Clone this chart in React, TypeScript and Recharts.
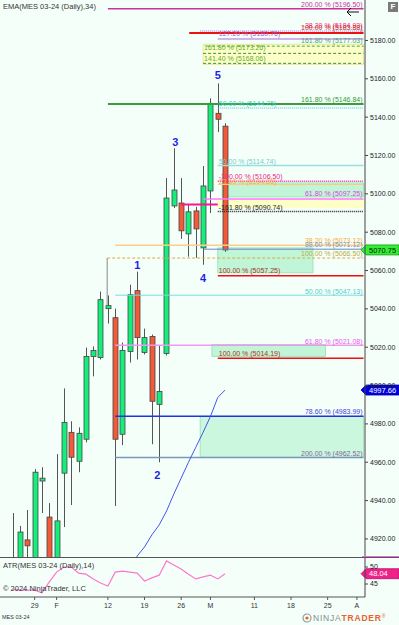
import React from 'react';
import { ComposedChart, Bar, Line, Scatter, XAxis, YAxis, ReferenceLine, ReferenceArea } from 'recharts';

// daily bars, index 0 = Jan 24 2024
const OPEN = [4908, 4904, 4919.5, 4906, 4950.2, 4931.4, 4907, 4954.3, 4975.6, 4960.5, 4972.0, 5015.2, 5014.6, 5040.1, 5035.4, 4974.6, 5017.8, 5049.5, 5017.2, 5025.6, 4990.2, 5016.7, 5093.7, 5095.2, 5079.1, 5091.1, 5071.8, 5101.5, 5142.0, 5135.3];
const HIGH = [4933.5, 4926.8, 4935.1, 4956.4, 4957.4, 4938.7, 4964.2, 4998.5, 4981.4, 4978.2, 5019.8, 5020.4, 5049.0, 5047.0, 5040.1, 5022.4, 5052.6, 5059.4, 5029.7, 5026.6, 5020.9, 5108.2, 5123.8, 5108.2, 5094.2, 5093.2, 5114.5, 5149.8, 5157.6, 5136.8];
const LOW = [4888, 4895, 4898, 4900, 4933.5, 4896, 4899, 4926.2, 4937.7, 4954.8, 4970.4, 5004.8, 5013.6, 5032.3, 4937.2, 4968.9, 5012.0, 5013.6, 5016.2, 4969.4, 4960.0, 5015.7, 5092.6, 5076.5, 5067.2, 5066.6, 5063.0, 5090.0, 5132.2, 5069.8];
const CLOSE = [4896, 4923.6, 4916.4, 4954.8, 4951.7, 4903, 4929.4, 4980.8, 4962.6, 4975.1, 5015.2, 5018.3, 5044.8, 5041.7, 4972.0, 5018.3, 5047.4, 5025.0, 5025.0, 4991.8, 4996.9, 5097.8, 5102.0, 5080.7, 5090.6, 5081.7, 5104.1, 5147.2, 5138.9, 5070.75];
const EMA = [null, null, null, null, null, null, null, null, null, null, null, null, null, null, null, null, 4904, 4911.1, 4915.8, 4922.1, 4927.3, 4934.5, 4943.4, 4951.7, 4960.0, 4967.8, 4975.6, 4983.9, 4993.8, 4997.66];
const ATR = [43.5, 43.2, 43.2, 43.2, 42.4, 45.6, 48.5, 50.0, 50.0, 48.2, 47.9, 46.5, 45.3, 44.4, 48.5, 48.8, 48.5, 48.2, 45.9, 46.8, 47.6, 51.8, 50.6, 49.4, 47.9, 46.5, 47.1, 47.6, 46.5, 48.04];

const TICK_IDX = [3, 6, 13, 18, 23, 27, 33, 38, 43, 47];
const TICK_LABELS = ['29', 'F', '12', '19', '26', 'M', '11', '18', '25', 'A'];
const PRICE_TICKS = [4920, 4940, 4960, 4980, 5000, 5020, 5040, 5060, 5080, 5100, 5120, 5140, 5160, 5180];
const ATR_TICKS = [45, 50];

// elliott wave labels
const WAVE_IDX = [17, 19.75, 22.2, 26, 28];
const WAVE_PRICE = [5062.9, 4953.4, 5127.1, 5056.1, 5162.0];
const WAVE_TEXT = ['1', '2', '3', '4', '5'];

// fibonacci drawing levels
const LEVEL_PCT = ['200.00', '-38.20', '100.00', '127.20', '161.80', '161.80', '141.40', '161.80', '50.00', '50.00', '-100.00', '23.60', '61.80', '-161.80', '38.20', '88.60', '100.00', '100.00', '50.00', '61.80', '100.00', '78.60', '200.00', ''];
const LEVEL_PRICE = [5196.50, 5184.93, 5183.88, 5180.76, 5177.03, 5173.26, 5168.06, 5146.84, 5144.75, 5114.74, 5106.50, 5104.85, 5097.25, 5090.74, 5073.12, 5071.12, 5066.50, 5057.25, 5047.13, 5021.08, 5014.19, 4983.99, 4962.52, 5094.4];
const LEVEL_FROM = [13, 25.6, 24.1, 28, 26.5, 26, 26, 13, 28, 28, 28, 28, 26, 28, 14, 26, 12.9, 28, 14, 14, 28, 14, 14, 23];
const LEVEL_TO = [47.9, 47.9, 47.9, 47.9, 47.9, 47.9, 47.9, 47.9, 47.9, 47.9, 47.9, 47.9, 47.9, 47.9, 47.9, 47.9, 47.9, 47.9, 47.9, 47.9, 47.9, 47.9, 47.9, 28];

// zones: [fromIdx, toIdx, lowPrice, highPrice]
const ZONE_X1 = [26, 28.6, 28, 28, 27.2, 25.6];
const ZONE_X2 = [47.9, 47.9, 47.9, 41, 42.7, 47.9];
const ZONE_Y1 = [5167.5, 5098.4, 5092.8, 5058.8, 5015.2, 4962.6];
const ZONE_Y2 = [5178.0, 5105.7, 5097.0, 5071.8, 5021.4, 4983.9];

const CONNECT_IDX = [12.9];
const CONNECT_FROM = [5066.5];
const CONNECT_TO = [5041.7];

const LAST_PRICE = 5070.75;
const LAST_EMA = 4997.66;
const LAST_ATR = 48.04;

const X_DOMAIN = [-1.73, 48.1];
const Y_DOMAIN = [4910.05, 5201.1];
const ATR_DOMAIN = [41.18, 52.65];

const GREEN = '#14ee7a';
const RED = '#f25a38';
const BG = '#f5fffa';

const LEVEL_STYLE = [
  { stroke: '#cc3399', w: 1.5, dash: '', tc: '#cc3399', side: 'r', dy: -2 },
  { stroke: '#aa66dd', w: 1, dash: '1 1', tc: '#ee3388', side: 'r', dy: -3 },
  { stroke: '#ee1111', w: 2, dash: '', tc: '#cc2222', side: 'r', dy: -3 },
  { stroke: '#aa66dd', w: 1, dash: '', tc: '#aa55cc', side: 'l', dy: -2.5 },
  { stroke: '#44aa44', w: 1, dash: '3 2', tc: '#44aa66', side: 'r', dy: -3 },
  { stroke: '#448844', w: 1, dash: '3 2', tc: '#66aa33', side: 'l', dy: -3 },
  { stroke: '#448844', w: 1, dash: '3 2', tc: '#66aa33', side: 'l', dy: -2 },
  { stroke: '#3c9c3c', w: 2, dash: '', tc: '#339933', side: 'r', dy: -2 },
  { stroke: '#33cccc', w: 1, dash: '1 1', tc: '#44cccc', side: 'l', dy: -2 },
  { stroke: '#99dddd', w: 1.5, dash: '', tc: '#77cccc', side: 'l', dy: -2 },
  { stroke: '#ff2299', w: 1.5, dash: '1 1', tc: '#ee2288', side: 'l', dy: -2 },
  { stroke: '#ffcc77', w: 1, dash: '', tc: '#ffaa44', side: 'l', dy: -1 },
  { stroke: '#ff77ff', w: 1.5, dash: '', tc: '#dd44dd', side: 'r', dy: -3.5 },
  { stroke: '#222222', w: 1.5, dash: '1 1', tc: '#222222', side: 'l', dy: -1.5 },
  { stroke: '#ffcc88', w: 1.5, dash: '', tc: '#ffaa33', side: 'r', dy: -2.5 },
  { stroke: '#6688bb', w: 1, dash: '', tc: '#7799bb', side: 'r', dy: -2 },
  { stroke: '#ddaa44', w: 1, dash: '3 2', tc: '#bbaa44', side: 'r', dy: -2 },
  { stroke: '#ee1111', w: 1.5, dash: '', tc: '#aa3322', side: 'l', dy: -2.5 },
  { stroke: '#77dddd', w: 1, dash: '', tc: '#55cccc', side: 'r', dy: -1.5 },
  { stroke: '#ee99ee', w: 1.5, dash: '', tc: '#ee55ee', side: 'r', dy: -1.5 },
  { stroke: '#ee1111', w: 1.5, dash: '', tc: '#aa3322', side: 'l', dy: -2 },
  { stroke: '#2233dd', w: 1.5, dash: '', tc: '#4444dd', side: 'r', dy: -2.5 },
  { stroke: '#7799bb', w: 1.5, dash: '', tc: '#886699', side: 'r', dy: -1 },
  { stroke: '#ff1493', w: 2, dash: '', tc: '#ff1493', side: 'r', dy: 0 },
];
const ZONE_STYLE = [
  { fill: '#ffffbb', stroke: '#e8e8a0' },
  { fill: '#b4f2cf', stroke: '#a0e4bc' },
  { fill: '#ffffbb', stroke: '#ffffbb' },
  { fill: '#b4f2cf', stroke: '#a0e4bc' },
  { fill: '#b4f2cf', stroke: '#a0e4bc' },
  { fill: '#c0f5d8', stroke: '#a0e4bc' },
];

const Candle = (props: any) => {
  const { x, y, width, height, payload } = props;
  if (!payload) return null;
  const { open, close, high, low } = payload;
  const top = Math.min(y, y + height);
  const h = Math.abs(height);
  const k = high === low ? 0 : h / (high - low);
  const yOf = (v: number) => top + (high - v) * k;
  const cx = Math.round(x + width / 2) + 0.5;
  const bTop = yOf(Math.max(open, close));
  const bBot = yOf(Math.min(open, close));
  return (
    <g>
      <line x1={cx} x2={cx} y1={top} y2={top + h} stroke="#555" strokeWidth={1} />
      <rect x={cx - 2.5} y={bTop} width={5} height={Math.max(1, bBot - bTop)} fill={close >= open ? GREEN : RED} stroke="#444" strokeWidth={0.8} />
    </g>
  );
};

const WaveLabel = (props: any) => (
  <text x={props.cx} y={props.cy} textAnchor="middle" dominantBaseline="central" fontSize={11} fontWeight="bold" fill="#1f1fe6">
    {props.payload.t}
  </text>
);

const levelLabel = (text: string, color: string, side: string, dy: number) => (props: any) => {
  const vb = props.viewBox;
  if (!vb || !text) return null;
  const x = side === 'l' ? vb.x + 1 : vb.x + vb.width - 1;
  return (
    <text x={x} y={vb.y + dy} textAnchor={side === 'l' ? 'start' : 'end'} fontSize={7} fill={color}>
      {text}
    </text>
  );
};

const axisTag = (text: string, fill: string, color: string, stroke: string) => (props: any) => {
  const vb = props.viewBox;
  if (!vb) return null;
  const x0 = vb.x + vb.width;
  const y0 = vb.y;
  return (
    <g>
      <polygon points={`${x0 - 4},${y0} ${x0 + 1},${y0 - 5} ${x0 + 34},${y0 - 5} ${x0 + 34},${y0 + 5} ${x0 + 1},${y0 + 5}`} fill={fill} stroke={stroke} strokeWidth={0.8} />
      <text x={x0 + 4} y={y0 + 2.8} fontSize={7.5} fill={color}>{text}</text>
    </g>
  );
};

const App = () => {
  const data = OPEN.map((o, i) => ({ i, open: o, high: HIGH[i], low: LOW[i], close: CLOSE[i], ema: EMA[i], atr: ATR[i] }));
  const waves = WAVE_IDX.map((i, k) => ({ i, p: WAVE_PRICE[k], t: WAVE_TEXT[k] }));
  const txt: React.CSSProperties = { position: 'absolute', whiteSpace: 'nowrap', lineHeight: 1, color: '#333' };

  return (
    <div style={{ position: 'absolute', left: 0, top: 0, width: 399, height: 625, background: BG, overflow: 'hidden', fontFamily: '"Liberation Sans", Arial, sans-serif' }}>
      <ComposedChart width={399} height={558} data={data} margin={{ top: 0, right: 0, bottom: 0, left: 0 }}>
        <XAxis type="number" dataKey="i" domain={X_DOMAIN} hide allowDataOverflow />
        <YAxis
          orientation="right"
          width={34}
          domain={Y_DOMAIN}
          ticks={PRICE_TICKS}
          interval={0}
          allowDataOverflow
          tickFormatter={(v: number) => v.toFixed(2)}
          tick={{ fontSize: 7, fill: '#222' }}
          tickSize={3}
          tickMargin={2}
          axisLine={{ stroke: '#444' }}
          tickLine={{ stroke: '#444' }}
        />
        {ZONE_X1.map((x1, k) => (
          <ReferenceArea key={'z' + k} x1={x1} x2={ZONE_X2[k]} y1={ZONE_Y1[k]} y2={ZONE_Y2[k]} fill={ZONE_STYLE[k].fill} fillOpacity={0.8} stroke={ZONE_STYLE[k].stroke} ifOverflow="visible" />
        ))}
        {LEVEL_PRICE.map((p, k) => {
          const s = LEVEL_STYLE[k];
          const text = LEVEL_PCT[k] ? `${LEVEL_PCT[k]} % (${p.toFixed(2)})` : '';
          return (
            <ReferenceLine
              key={'l' + k}
              segment={[{ x: LEVEL_FROM[k], y: p }, { x: LEVEL_TO[k], y: p }]}
              stroke={s.stroke}
              strokeWidth={s.w}
              strokeDasharray={s.dash || undefined}
              ifOverflow="visible"
              label={levelLabel(text, s.tc, s.side, s.dy)}
            />
          );
        })}
        {CONNECT_IDX.map((x, k) => (
          <ReferenceLine key={'c' + k} segment={[{ x, y: CONNECT_FROM[k] }, { x, y: CONNECT_TO[k] }]} stroke="#888" ifOverflow="visible" />
        ))}
        <Bar dataKey={(d: any) => [d.low, d.high]} barSize={5} shape={<Candle />} isAnimationActive={false} />
        <Line dataKey="ema" stroke="#4455ee" strokeWidth={1} dot={false} isAnimationActive={false} />
        <Scatter data={waves} dataKey="p" shape={WaveLabel} isAnimationActive={false} />
        <ReferenceLine y={LAST_PRICE} stroke="none" label={axisTag(LAST_PRICE.toFixed(2), '#33ee33', '#111', '#1a9a1a')} />
        <ReferenceLine y={LAST_EMA} stroke="none" label={axisTag(LAST_EMA.toFixed(2), '#0000dd', '#fff', '#0000aa')} />
      </ComposedChart>

      <div style={{ position: 'absolute', left: 0, top: 557, width: 399, height: 1, background: '#555' }} />
      <div style={{ position: 'absolute', left: 362, top: 556, width: 37, height: 1, background: '#ee66ee' }} />

      <div style={{ position: 'absolute', left: 0, top: 558 }}>
        <ComposedChart width={399} height={52} data={data} margin={{ top: 0, right: 0, bottom: 0, left: 0 }}>
          <XAxis
            type="number"
            dataKey="i"
            domain={X_DOMAIN}
            allowDataOverflow
            ticks={TICK_IDX}
            interval={0}
            tickFormatter={(v: number) => TICK_LABELS[TICK_IDX.indexOf(v)]}
            height={13}
            tickSize={3}
            tickMargin={3}
            tick={{ fontSize: 7, fill: '#333' }}
            axisLine={{ stroke: '#555' }}
            tickLine={{ stroke: '#555' }}
          />
          <YAxis
            orientation="right"
            width={34}
            domain={ATR_DOMAIN}
            ticks={ATR_TICKS}
            allowDataOverflow
            tick={{ fontSize: 7, fill: '#222' }}
            tickSize={3}
            tickMargin={2}
            axisLine={{ stroke: '#444' }}
            tickLine={{ stroke: '#444' }}
          />
          <Line dataKey="atr" stroke="#ff77cc" strokeWidth={1.2} dot={false} isAnimationActive={false} />
          <ReferenceLine y={LAST_ATR} stroke="none" label={axisTag(LAST_ATR.toFixed(2), '#ee2288', '#fff', '#c01070')} />
        </ComposedChart>
      </div>

      <span style={{ ...txt, left: 3, top: 3, fontSize: 7.5 }}>EMA(MES 03-24 (Daily),34)</span>
      <span style={{ ...txt, left: 3, top: 562, fontSize: 7.5 }}>ATR(MES 03-24 (Daily),14)</span>
      <span style={{ ...txt, left: 3, top: 585, fontSize: 7.5 }}>© 2024 NinjaTrader, LLC</span>
      <span style={{ ...txt, left: 2, top: 615, fontSize: 5.5 }}>MES 03-24</span>

      <svg style={{ position: 'absolute', left: 345, top: 6 }} width={16} height={12}>
        <line x1={2} y1={6} x2={14} y2={6} stroke="#111" strokeWidth={1} />
        <polyline points="6,2 2,6 6,10" fill="none" stroke="#111" strokeWidth={1} />
      </svg>
      <div style={{ position: 'absolute', left: 388, top: 2, width: 10, height: 10, background: '#7a7a7a', color: '#fff', fontSize: 8, lineHeight: '10px', textAlign: 'center', fontWeight: 'bold' }}>F</div>

      <svg style={{ position: 'absolute', left: 302, top: 613 }} width={10} height={10}>
        <circle cx={5} cy={5} r={4} fill="none" stroke="#999" strokeWidth={1.2} />
        <circle cx={5} cy={5} r={1.6} fill="#e8612c" />
      </svg>
      <span style={{ ...txt, left: 313, top: 614, fontSize: 8.5, letterSpacing: 0.8 }}>
        <span style={{ color: '#8a8a8a' }}>NINJA</span>
        <span style={{ color: '#e8612c', fontWeight: 'bold' }}>TRADER</span>
        <span style={{ color: '#e8612c', fontSize: 5, verticalAlign: 'top' }}>®</span>
      </span>
    </div>
  );
};

export default App;
